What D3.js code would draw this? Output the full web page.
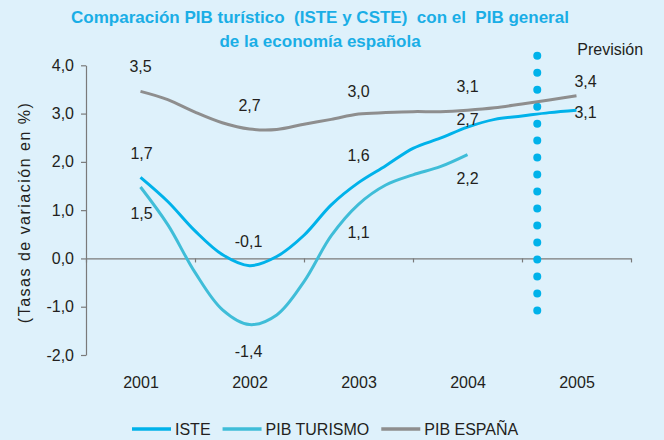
<!DOCTYPE html>
<html>
<head>
<meta charset="utf-8">
<script src="https://cdn.jsdelivr.net/npm/d3@7"></script>
<style>
  html, body { margin: 0; padding: 0; background: #def1fb; }
  svg { display: block; }
  text { font-family: "Liberation Sans", Arial, Helvetica, sans-serif; }
</style>
</head>
<body>
<svg id="chart" width="664" height="440"></svg>
<script>
// ---------- data ----------
const titleLines = ["Comparación PIB turístico  (ISTE y CSTE)  con el  PIB general", "de la economía española"];
const yAxisTitle = "(Tasas de variación en %)";
const yearLabels = [2001, 2002, 2003, 2004, 2005];
const yTicks = [-2, -1, 0, 1, 2, 3, 4];
const quarters = [2001, 2001.25, 2001.5, 2001.75, 2002, 2002.25, 2002.5, 2002.75, 2003,
                  2003.25, 2003.5, 2003.75, 2004, 2004.25, 2004.5, 2004.75, 2005];
const iste       = [1.68, 1.18, 0.57, 0.08, -0.15, 0.04, 0.48, 1.11, 1.57, 1.92, 2.28, 2.49, 2.72, 2.88, 2.95, 3.02, 3.07];
const pibTurismo = [1.48, 0.70, -0.29, -1.06, -1.37, -1.17, -0.48, 0.47, 1.12, 1.52, 1.73, 1.90, 2.15];
const pibEspana  = [3.46, 3.29, 3.03, 2.81, 2.68, 2.67, 2.78, 2.88, 2.99, 3.02, 3.04, 3.04, 3.07, 3.12, 3.20, 3.28, 3.37];
const seriesNames = ["ISTE", "PIB TURISMO", "PIB ESPAÑA"];
const forecastYear = 2004.64;
const forecastLabel = "Previsión";
// annotations: series index, year, text
const annSeries = [2, 0, 1, 2, 0, 1, 2, 0, 1, 2, 0, 1, 2, 0];
const annYear   = [2001, 2001, 2001, 2002, 2002, 2002, 2003, 2003, 2003, 2004, 2004, 2004, 2005, 2005];
const annText   = ["3,5", "1,7", "1,5", "2,7", "-0,1", "-1,4", "3,0", "1,6", "1,1", "3,1", "2,7", "2,2", "3,4", "3,1"];

// ---------- setup ----------
const colors = ["#00b2ea", "#3fbdd8", "#8e8e8e"];
const textColor = "#231f20";
const axisColor = "#7a7a7a";
const svg = d3.select("#chart");
svg.append("rect").attr("width", 664).attr("height", 440).attr("fill", "#def1fb");

const x = d3.scaleLinear().domain([2000.5, 2005.5]).range([86, 631]);
const y = d3.scaleLinear().domain([-2, 4]).range([355, 65.3]);
const fmt = d => d3.format(".1f")(d).replace(".", ",").replace("\u2212", "-");

// title
svg.append("g").selectAll("text").data(titleLines).join("text")
  .attr("x", 320).attr("y", (d, i) => 23 + i * 24)
  .attr("text-anchor", "middle")
  .attr("fill", "#1aaee6").attr("font-weight", "bold").attr("font-size", 17)
  .style("white-space", "pre")
  .text(d => d);

// y axis
const yAxis = svg.append("g").attr("transform", `translate(${x.range()[0]},0)`)
  .call(d3.axisLeft(y).tickValues(yTicks).tickFormat(fmt).tickSize(5).tickSizeOuter(0).tickPadding(7));
yAxis.selectAll("path, line").attr("stroke", axisColor).attr("stroke-width", 1.2);
yAxis.selectAll("text").attr("fill", textColor).attr("font-size", 16)
  .style("font-family", "'Liberation Sans', Arial, sans-serif");

// x axis along zero line
const boundaries = d3.range(2000.5, 2006, 1);
const xAxis = svg.append("g").attr("transform", `translate(0,${y(0)})`)
  .call(d3.axisBottom(x).tickValues(boundaries).tickFormat("").tickSize(4).tickSizeOuter(0));
xAxis.selectAll("path, line").attr("stroke", axisColor).attr("stroke-width", 1.2);

// year labels
const xLab = svg.append("g").attr("transform", `translate(0,${y(-2)})`)
  .call(d3.axisBottom(x).tickValues(yearLabels).tickFormat(d3.format("d")).tickSize(0).tickPadding(22));
xLab.select(".domain").remove();
xLab.selectAll("text").attr("fill", textColor).attr("font-size", 16)
  .style("font-family", "'Liberation Sans', Arial, sans-serif");

// y axis title
svg.append("text")
  .attr("transform", `translate(30,${(y(4) + y(-2)) / 2 + 3}) rotate(-90)`)
  .attr("text-anchor", "middle").attr("fill", textColor).attr("font-size", 16)
  .attr("textLength", 220).attr("lengthAdjust", "spacing")
  .text(yAxisTitle);

// forecast dotted line
const fy1 = y(4.2), fy2 = y(-1.08);
svg.append("line")
  .attr("x1", x(forecastYear)).attr("x2", x(forecastYear))
  .attr("y1", fy1).attr("y2", fy2)
  .attr("stroke", "#00b2ea").attr("stroke-width", 8).attr("stroke-linecap", "round")
  .attr("stroke-dasharray", `0 ${(fy2 - fy1) / 15}`);
svg.append("text").attr("x", x(forecastYear) + 40).attr("y", 55)
  .attr("fill", textColor).attr("font-size", 16).text(forecastLabel);

// series
const allSeries = [iste, pibTurismo, pibEspana];
const line = d3.line().x(d => x(d[0])).y(d => y(d[1])).curve(d3.curveCatmullRom.alpha(0.5));
[2, 1, 0].forEach(i => {
  const pts = allSeries[i].map((v, k) => [quarters[k], v]);
  svg.append("path").attr("d", line(pts)).attr("fill", "none")
    .attr("stroke", colors[i]).attr("stroke-width", 3).attr("stroke-linejoin", "round");
});

// annotations
const annOffsets = [[0, -25], [1, -24], [1, 26], [0, -24], [-1, -24], [-1, 27], [0, -23], [0, -27], [0, 28],
                    [0, -24], [0, -8], [0, 24], [9, -14], [9, 2]];
svg.append("g").selectAll("text").data(annText).join("text")
  .attr("x", (d, i) => x(annYear[i]) + annOffsets[i][0])
  .attr("y", (d, i) => {
    const s = allSeries[annSeries[i]];
    const k = quarters.indexOf(annYear[i]);
    return y(s[k]) + annOffsets[i][1];
  })
  .attr("dy", "0.35em").attr("text-anchor", "middle")
  .attr("fill", textColor).attr("font-size", 16).text(d => d);

// legend
let lx = 132;
const ly = 429;
seriesNames.forEach((name, i) => {
  svg.append("line").attr("x1", lx).attr("x2", lx + 39).attr("y1", ly).attr("y2", ly)
    .attr("stroke", colors[i]).attr("stroke-width", 3.5);
  const t = svg.append("text").attr("x", lx + 43).attr("y", ly + 6)
    .attr("fill", textColor).attr("font-size", 16).text(name);
  lx += 43 + t.node().getComputedTextLength() + 12;
});
</script>
</body>
</html>
